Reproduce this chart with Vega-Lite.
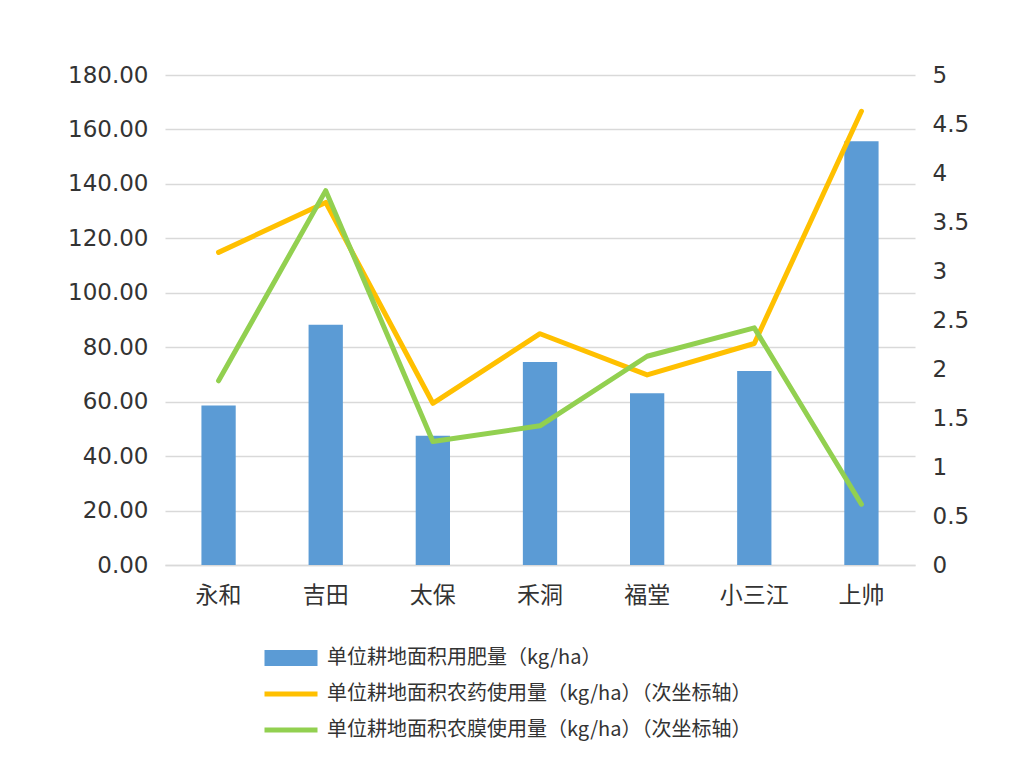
{
  "$schema": "https://vega.github.io/schema/vega-lite/v6.json",
  "width": 750,
  "height": 490,
  "autosize": "none",
  "padding": {"left": 165, "top": 75, "right": 102, "bottom": 216},
  "background": "white",
  "config": {
    "view": {"stroke": null},
    "font": "DejaVu Sans",
    "axis": {"labelFont": "DejaVu Sans", "labelColor": "#333333", "labelFontSize": 23, "ticks": false, "title": null}
  },
  "data": {
    "values": [
      {"cat": "永和", "series": "单位耕地面积用肥量（kg/ha）", "value": 58.6},
      {"cat": "吉田", "series": "单位耕地面积用肥量（kg/ha）", "value": 88.3},
      {"cat": "太保", "series": "单位耕地面积用肥量（kg/ha）", "value": 47.5},
      {"cat": "禾洞", "series": "单位耕地面积用肥量（kg/ha）", "value": 74.6},
      {"cat": "福堂", "series": "单位耕地面积用肥量（kg/ha）", "value": 63.1},
      {"cat": "小三江", "series": "单位耕地面积用肥量（kg/ha）", "value": 71.3},
      {"cat": "上帅", "series": "单位耕地面积用肥量（kg/ha）", "value": 155.7},
      {"cat": "永和", "series": "单位耕地面积农药使用量（kg/ha）（次坐标轴）", "value": 3.19},
      {"cat": "吉田", "series": "单位耕地面积农药使用量（kg/ha）（次坐标轴）", "value": 3.70},
      {"cat": "太保", "series": "单位耕地面积农药使用量（kg/ha）（次坐标轴）", "value": 1.65},
      {"cat": "禾洞", "series": "单位耕地面积农药使用量（kg/ha）（次坐标轴）", "value": 2.36},
      {"cat": "福堂", "series": "单位耕地面积农药使用量（kg/ha）（次坐标轴）", "value": 1.94},
      {"cat": "小三江", "series": "单位耕地面积农药使用量（kg/ha）（次坐标轴）", "value": 2.26},
      {"cat": "上帅", "series": "单位耕地面积农药使用量（kg/ha）（次坐标轴）", "value": 4.63},
      {"cat": "永和", "series": "单位耕地面积农膜使用量（kg/ha）（次坐标轴）", "value": 1.88},
      {"cat": "吉田", "series": "单位耕地面积农膜使用量（kg/ha）（次坐标轴）", "value": 3.82},
      {"cat": "太保", "series": "单位耕地面积农膜使用量（kg/ha）（次坐标轴）", "value": 1.26},
      {"cat": "禾洞", "series": "单位耕地面积农膜使用量（kg/ha）（次坐标轴）", "value": 1.42},
      {"cat": "福堂", "series": "单位耕地面积农膜使用量（kg/ha）（次坐标轴）", "value": 2.13},
      {"cat": "小三江", "series": "单位耕地面积农膜使用量（kg/ha）（次坐标轴）", "value": 2.42},
      {"cat": "上帅", "series": "单位耕地面积农膜使用量（kg/ha）（次坐标轴）", "value": 0.62}
    ]
  },
  "encoding": {
    "x": {
      "field": "cat",
      "type": "nominal",
      "sort": null,
      "scale": {"paddingInner": 0, "paddingOuter": 0},
      "axis": {"labelAngle": 0, "labelPadding": 19, "domain": true, "domainColor": "#d9d9d9", "domainWidth": 1.5, "grid": false, "labelFont": "Noto Sans CJK SC", "labelFontSize": 23}
    },
    "color": {
      "field": "series",
      "type": "nominal",
      "scale": {
        "domain": ["单位耕地面积用肥量（kg/ha）", "单位耕地面积农药使用量（kg/ha）（次坐标轴）", "单位耕地面积农膜使用量（kg/ha）（次坐标轴）"],
        "range": ["#5B9BD5", "#FFC000", "#92D050"]
      },
      "legend": {
        "title": null,
        "orient": "none",
        "legendX": 116,
        "legendY": 573,
        "direction": "vertical",
        "labelFont": "Noto Sans CJK SC",
        "labelFontSize": 20,
        "labelColor": "#333333",
        "labelLimit": 800,
        "labelOffset": 26,
        "symbolSize": 400,
        "rowPadding": 16,
        "encode": {
          "symbols": {
            "update": {
              "shape": {"signal": "datum.index == 0 ? 'M-2.65,-0.8H2.65V0.8H-2.65Z' : 'M-2.65,-0.25H2.65V0.25H-2.65Z'"},
              "fill": {"scale": "color", "field": "value"},
              "strokeWidth": {"value": 0},
              "opacity": {"value": 1}
            }
          }
        }
      }
    }
  },
  "layer": [
    {
      "transform": [{"filter": "datum.series == '单位耕地面积用肥量（kg/ha）'"}],
      "mark": {"type": "bar", "width": {"band": 0.32}},
      "encoding": {
        "y": {
          "field": "value",
          "type": "quantitative",
          "scale": {"domain": [0, 180]},
          "axis": {"orient": "left", "values": [0, 20, 40, 60, 80, 100, 120, 140, 160, 180], "format": ".2f", "labelPadding": 17, "domain": false, "grid": true, "gridColor": "#d9d9d9", "gridWidth": 1.5}
        }
      }
    },
    {
      "transform": [{"filter": "datum.series != '单位耕地面积用肥量（kg/ha）'"}],
      "mark": {"type": "line", "strokeWidth": 5, "strokeCap": "round", "strokeJoin": "round"},
      "encoding": {
        "y": {
          "field": "value",
          "type": "quantitative",
          "scale": {"domain": [0, 5]},
          "axis": {"orient": "right", "values": [0, 0.5, 1, 1.5, 2, 2.5, 3, 3.5, 4, 4.5, 5], "labelExpr": "'' + datum.value", "labelPadding": 17, "domain": false, "grid": false}
        }
      }
    }
  ],
  "resolve": {"scale": {"y": "independent"}}
}
